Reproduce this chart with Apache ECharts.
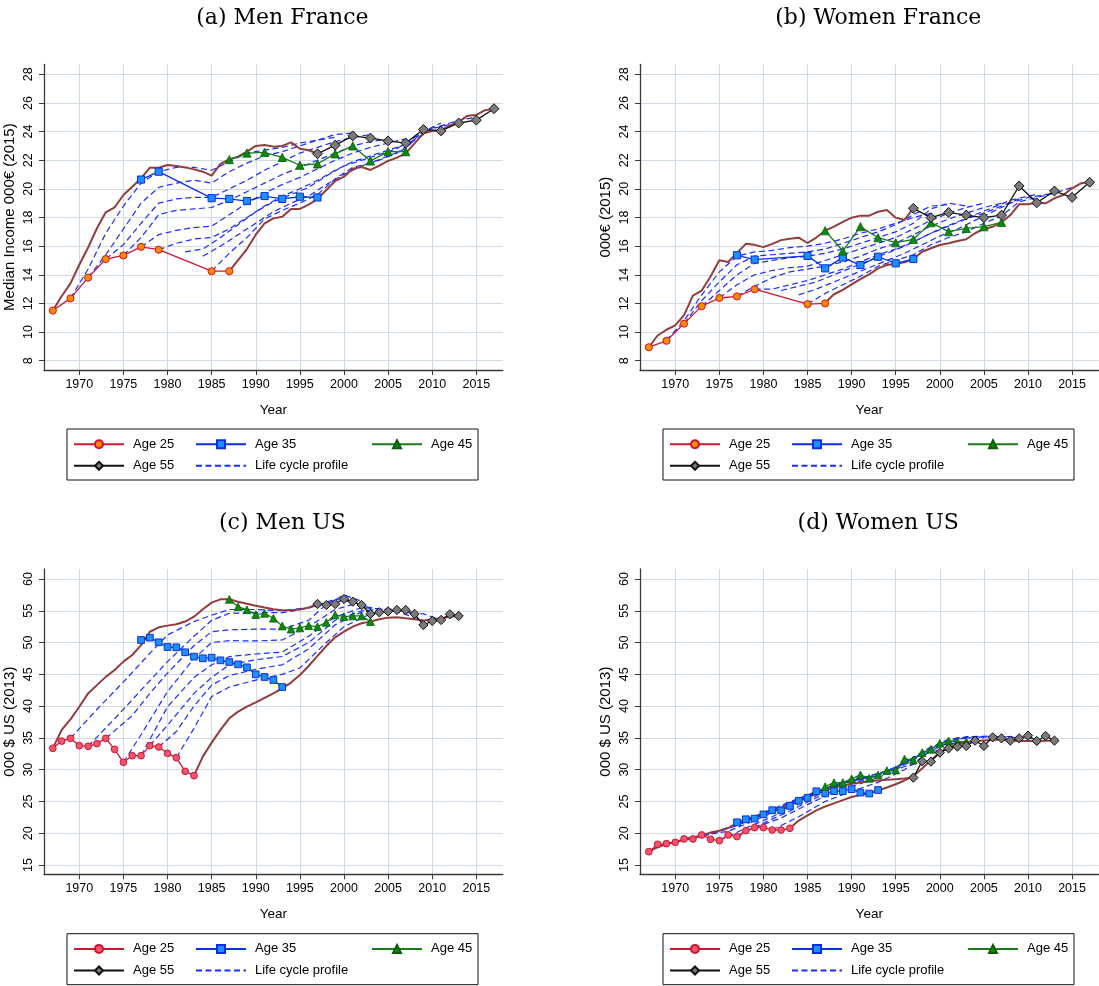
<!DOCTYPE html>
<html><head><meta charset="utf-8">
<script src="https://cdn.jsdelivr.net/npm/echarts@6/dist/echarts.min.js"></script>
<style>html,body{margin:0;padding:0;background:#fff}#c{width:1099px;height:986px}</style>
</head><body><div id="c"></div>
<script>
// ---------------- tick labels ----------------
const xTicks = [1970,1975,1980,1985,1990,1995,2000,2005,2010,2015];
const yTicksFR = [8,10,12,14,16,18,20,22,24,26,28];
const yTicksUS = [15,20,25,30,35,40,45,50,55,60];
const panelTitles = ['(a) Men France','(b) Women France','(c) Men US','(d) Women US'];
const yNames = ['Median Income 000€ (2015)','000€ (2015)','000 $ US (2013)','000 $ US (2013)'];
const legendNames = ['Age 25','Age 35','Age 45','Age 55','Life cycle profile'];

// ---------------- (a) Men France ----------------
const menFR_age25 = [[1967,11.5],[1969,12.35],[1971,13.8],[1973,15.1],[1975,15.35],[1977,15.95],[1979,15.75],[1985,14.25],[1987,14.25]];
const menFR_age35 = [[1977,20.65],[1979,21.2],[1985,19.35],[1987,19.3],[1989,19.15],[1991,19.5],[1993,19.3],[1995,19.45],[1997,19.4]];
const menFR_age45 = [[1987,22.05],[1989,22.5],[1991,22.55],[1993,22.2],[1995,21.65],[1997,21.75],[1999,22.45],[2001,23.0],[2003,21.95],[2005,22.6],[2007,22.6]];
const menFR_age55 = [[1997,22.45],[1999,23.05],[2001,23.7],[2003,23.55],[2005,23.35],[2007,23.2],[2009,24.15],[2011,24.05],[2013,24.6],[2015,24.8],[2017,25.6]];
const menFR_upper = [[1967,11.5],[1968,12.5],[1969,13.4],[1970,14.7],[1971,15.9],[1972,17.25],[1973,18.36],[1974,18.7],[1975,19.57],[1976,20.15],[1977,20.73],[1978,21.48],[1979,21.48],[1980,21.67],[1981,21.6],[1982,21.5],[1983,21.36],[1984,21.2],[1985,20.92],[1986,21.74],[1987,22.06],[1988,22.25],[1989,22.6],[1990,23.0],[1991,23.06],[1992,22.95],[1993,23.0],[1994,23.25],[1995,22.8],[1996,22.7],[1997,22.45]];
const menFR_lower = [[1987,14.25],[1988,15.03],[1989,15.8],[1990,16.8],[1991,17.59],[1992,17.94],[1993,18.06],[1994,18.6],[1995,18.6],[1996,18.9],[1997,19.3],[1998,19.92],[1999,20.55],[2000,20.85],[2001,21.4],[2002,21.53],[2003,21.32],[2004,21.62],[2005,21.95],[2006,22.18],[2007,22.48],[2008,23.18],[2009,23.88],[2010,24.04],[2011,24.1],[2012,24.41],[2013,24.7],[2014,25.1],[2015,25.16],[2016,25.5],[2017,25.58]];
const menFR_cohorts = [
  [[1969,12.35],[1971,14.4],[1973,16.9],[1975,18.8],[1977,20.4],[1979,21.2],[1981,21.5],[1983,21.5],[1985,21.3],[1987,21.9],[1989,22.5],[1991,22.7],[1993,22.9],[1995,23.2],[1997,23.4],[1999,23.6]],
  [[1971,13.8],[1973,15.4],[1975,17.2],[1977,19.0],[1979,20.1],[1981,20.4],[1983,20.6],[1985,20.4],[1987,21.2],[1989,21.8],[1991,22.3],[1993,22.6],[1995,23.0],[1997,23.4],[1999,23.8],[2001,23.9]],
  [[1973,15.1],[1975,16.1],[1977,17.6],[1979,19.0],[1981,19.3],[1983,19.4],[1985,19.4],[1987,20.0],[1989,20.6],[1991,21.3],[1993,21.9],[1995,22.5],[1997,22.9],[1999,23.3],[2001,23.6],[2003,23.8]],
  [[1975,15.35],[1977,16.6],[1979,18.2],[1981,18.5],[1983,18.6],[1985,18.7],[1987,19.2],[1989,19.8],[1991,20.4],[1993,21.0],[1995,21.5],[1997,22.0],[1999,22.5],[2001,23.0],[2003,23.3],[2005,23.5]],
  [[1977,15.95],[1979,16.8],[1981,17.1],[1983,17.3],[1985,17.4],[1987,18.2],[1989,19.0],[1991,19.7],[1993,20.3],[1995,20.8],[1997,21.4],[1999,22.0],[2001,22.5],[2003,22.9],[2005,23.2],[2007,23.5]],
  [[1979,15.75],[1981,16.2],[1983,16.5],[1985,16.6],[1987,17.2],[1989,18.0],[1991,18.8],[1993,19.5],[1995,20.0],[1997,20.6],[1999,21.3],[2001,21.9],[2003,22.3],[2005,22.7],[2007,23.1],[2009,23.8]],
  [[1982,15.6],[1984,15.8],[1986,16.6],[1988,17.5],[1990,18.4],[1992,19.1],[1994,19.6],[1996,20.1],[1998,20.9],[2000,21.6],[2002,22.0],[2004,22.4],[2006,22.8],[2008,23.6],[2010,24.3],[2011,24.6]],
  [[1984,15.3],[1986,16.0],[1988,16.8],[1990,17.6],[1992,18.4],[1994,19.0],[1996,19.5],[1998,20.3],[2000,21.0],[2002,21.6],[2004,22.0],[2006,22.5],[2008,23.4],[2010,24.2],[2012,24.5],[2013,24.7]],
  [[1985,14.25],[1987,15.5],[1989,16.6],[1991,17.9],[1993,18.5],[1995,19.0],[1997,19.6],[1999,20.7],[2001,21.5],[2003,21.8],[2005,22.3],[2007,22.8],[2009,24.1],[2011,24.4],[2013,24.8],[2015,25.0]]
];

// ---------------- (b) Women France ----------------
const womFR_age25 = [[1967,8.94],[1969,9.39],[1971,10.59],[1973,11.81],[1975,12.38],[1977,12.49],[1979,12.99],[1985,11.95],[1987,12.0]];
const womFR_age35 = [[1977,15.36],[1979,15.06],[1985,15.32],[1987,14.45],[1989,15.2],[1991,14.68],[1993,15.26],[1995,14.8],[1997,15.1]];
const womFR_age45 = [[1987,17.08],[1989,15.66],[1991,17.36],[1993,16.59],[1995,16.24],[1997,16.48],[1999,17.64],[2001,17.01],[2003,17.24],[2005,17.36],[2007,17.66]];
const womFR_age55 = [[1997,18.64],[1999,17.99],[2001,18.36],[2003,18.17],[2005,17.99],[2007,18.17],[2009,20.2],[2011,19.03],[2013,19.85],[2015,19.41],[2017,20.46]];
const womFR_upper = [[1967,8.94],[1968,9.76],[1969,10.16],[1970,10.47],[1971,11.18],[1972,12.54],[1973,12.9],[1974,13.88],[1975,15.01],[1976,14.9],[1977,15.53],[1978,16.16],[1979,16.09],[1980,15.93],[1981,16.16],[1982,16.42],[1983,16.52],[1984,16.59],[1985,16.22],[1986,16.6],[1987,17.08],[1988,17.36],[1989,17.7],[1990,17.99],[1991,18.13],[1992,18.13],[1993,18.4],[1994,18.52],[1995,17.99],[1996,17.83],[1997,18.64]];
const womFR_lower = [[1987,12.05],[1988,12.64],[1989,12.94],[1990,13.33],[1991,13.7],[1992,14.03],[1993,14.45],[1994,14.68],[1995,14.77],[1996,14.87],[1997,15.1],[1998,15.61],[1999,15.85],[2000,16.08],[2001,16.2],[2002,16.36],[2003,16.48],[2004,16.9],[2005,17.2],[2006,17.36],[2007,17.66],[2008,18.17],[2009,18.92],[2010,18.92],[2011,19.03],[2012,18.99],[2013,19.34],[2014,19.57],[2015,20.04],[2016,20.39],[2017,20.46]];
const womFR_cohorts = [
  [[1969,9.4],[1971,10.8],[1973,12.6],[1975,14.2],[1977,15.3],[1979,15.6],[1981,15.7],[1983,15.9],[1985,16.0],[1987,16.2],[1989,16.5],[1991,16.9],[1993,17.2],[1995,17.6],[1997,18.0],[1999,18.3]],
  [[1971,10.6],[1973,12.2],[1975,13.5],[1977,14.7],[1979,15.3],[1981,15.4],[1983,15.5],[1985,15.6],[1987,15.8],[1989,16.2],[1991,16.6],[1993,17.0],[1995,17.5],[1997,18.2],[1999,18.8],[2001,18.9]],
  [[1973,11.8],[1975,12.9],[1977,14.0],[1979,14.8],[1981,15.0],[1983,15.2],[1985,15.3],[1987,15.5],[1989,15.8],[1991,16.2],[1993,16.6],[1995,17.0],[1997,17.6],[1999,18.6],[2001,19.0],[2003,18.8]],
  [[1975,12.4],[1977,13.3],[1979,14.0],[1981,14.3],[1983,14.5],[1985,14.6],[1987,15.0],[1989,15.4],[1991,15.8],[1993,16.2],[1995,16.6],[1997,17.2],[1999,17.8],[2001,18.3],[2003,18.7],[2005,19.0]],
  [[1977,12.5],[1979,13.2],[1981,13.8],[1983,14.2],[1985,14.4],[1987,14.6],[1989,14.9],[1991,15.3],[1993,15.8],[1995,16.2],[1997,16.8],[1999,17.4],[2001,17.9],[2003,18.3],[2005,18.7],[2007,19.0]],
  [[1979,13.0],[1981,13.0],[1983,13.3],[1985,13.6],[1987,14.0],[1989,14.4],[1991,14.9],[1993,15.4],[1995,15.8],[1997,16.3],[1999,16.9],[2001,17.4],[2003,17.9],[2005,18.3],[2007,18.8],[2009,19.3]],
  [[1982,12.9],[1984,13.2],[1986,13.5],[1988,14.0],[1990,14.5],[1992,15.0],[1994,15.5],[1996,16.0],[1998,16.6],[2000,17.2],[2002,17.7],[2004,18.2],[2006,18.7],[2008,19.2],[2010,19.5],[2011,19.6]],
  [[1984,12.6],[1986,13.0],[1988,13.5],[1990,14.0],[1992,14.5],[1994,15.0],[1996,15.5],[1998,16.1],[2000,16.7],[2002,17.2],[2004,17.8],[2006,18.4],[2008,19.0],[2010,19.4],[2012,19.6],[2013,19.7]],
  [[1985,11.95],[1987,12.7],[1989,13.3],[1991,13.9],[1993,14.6],[1995,15.0],[1997,15.4],[1999,16.1],[2001,16.6],[2003,17.0],[2005,17.6],[2007,18.1],[2009,19.1],[2011,19.4],[2013,19.7],[2015,20.1]]
];

// ---------------- (c) Men US ----------------
const menUS_age25 = [[1967,33.36],[1968,34.5],[1969,34.93],[1970,33.78],[1971,33.68],[1972,34.1],[1973,34.93],[1974,33.2],[1975,31.16],[1976,32.2],[1977,32.2],[1978,33.78],[1979,33.57],[1980,32.57],[1981,31.89],[1982,29.74],[1983,29.06]];
const menUS_age35 = [[1977,50.4],[1978,50.77],[1979,50.04],[1980,49.3],[1981,49.25],[1982,48.47],[1983,47.78],[1984,47.52],[1985,47.62],[1986,47.2],[1987,46.94],[1988,46.57],[1989,46.1],[1990,45.0],[1991,44.58],[1992,44.1],[1993,43.0]];
const menUS_age45 = [[1987,56.8],[1988,55.64],[1989,55.15],[1990,54.4],[1991,54.6],[1992,53.82],[1993,52.6],[1994,52.1],[1995,52.3],[1996,52.66],[1997,52.5],[1998,53.18],[1999,54.34],[2000,54.07],[2001,54.18],[2002,54.18],[2003,53.29]];
const menUS_age55 = [[1997,56.07],[1998,55.9],[1999,56.07],[2000,56.85],[2001,56.43],[2002,55.9],[2003,54.5],[2004,54.76],[2005,54.91],[2006,55.12],[2007,55.12],[2008,54.5],[2009,52.76],[2010,53.4],[2011,53.55],[2012,54.44],[2013,54.18]];
const menUS_upper = [[1967,33.36],[1968,36.25],[1969,37.92],[1970,39.9],[1971,42.0],[1972,43.3],[1973,44.6],[1974,45.68],[1975,47.0],[1976,48.04],[1977,49.6],[1978,51.7],[1979,52.4],[1980,52.66],[1981,52.87],[1982,53.3],[1983,54.07],[1984,55.23],[1985,56.28],[1986,56.8],[1987,56.8],[1988,56.43],[1989,56.1],[1990,55.8],[1991,55.5],[1992,55.25],[1993,55.1],[1994,55.1],[1995,55.2],[1996,55.5],[1997,56.07]];
const menUS_lower = [[1983,29.06],[1984,32.05],[1985,34.25],[1986,36.25],[1987,38.08],[1988,39.13],[1989,39.92],[1990,40.6],[1991,41.3],[1992,42.0],[1993,42.8],[1994,43.7],[1995,44.9],[1996,46.31],[1997,47.9],[1998,49.46],[1999,50.82],[2000,51.71],[2001,52.5],[2002,53.03],[2003,53.29],[2004,53.66],[2005,53.92],[2006,53.97],[2007,53.81],[2008,53.66],[2009,53.45],[2010,53.66],[2011,53.81],[2012,54.07],[2013,54.18]];
const menUS_cohorts = [
  [[1969,34.93],[1972,39.5],[1975,43.8],[1978,48.3],[1980,51.2],[1983,53.3],[1985,54.3],[1987,55.2],[1990,55.2],[1993,55.0],[1996,55.5],[1999,56.1]],
  [[1971,33.68],[1974,38.0],[1977,42.5],[1980,47.0],[1983,51.0],[1985,53.5],[1987,54.6],[1990,54.7],[1993,54.7],[1996,55.4],[1999,56.8],[2001,56.4]],
  [[1973,34.93],[1976,38.5],[1978,42.0],[1980,45.2],[1983,49.5],[1985,51.7],[1987,52.0],[1990,52.1],[1993,52.1],[1996,53.5],[1998,56.0],[2000,57.5],[2002,56.5],[2003,54.5]],
  [[1975,31.16],[1977,35.5],[1980,42.3],[1983,47.5],[1985,50.0],[1987,50.3],[1990,50.25],[1993,50.4],[1996,52.5],[1999,55.2],[2001,56.0],[2003,55.5],[2005,55.0]],
  [[1977,32.2],[1980,39.9],[1983,44.5],[1985,46.5],[1987,47.8],[1990,48.2],[1993,48.5],[1996,51.0],[1999,54.0],[2002,55.5],[2005,55.2],[2007,55.1]],
  [[1978,33.78],[1980,37.0],[1983,42.0],[1985,44.5],[1987,46.5],[1990,47.3],[1993,47.8],[1996,50.0],[1999,53.5],[2002,55.0],[2005,55.3],[2008,54.5]],
  [[1979,33.57],[1981,36.0],[1983,40.0],[1985,43.3],[1987,44.8],[1990,45.8],[1993,46.5],[1996,49.0],[1999,52.8],[2002,54.8],[2005,55.3],[2009,53.5]],
  [[1981,31.89],[1983,36.5],[1985,41.5],[1987,43.0],[1990,44.1],[1993,45.0],[1995,46.0],[1998,50.0],[2000,52.5],[2003,54.5],[2006,55.0],[2009,54.5],[2011,53.6]]
];

// ---------------- (d) Women US ----------------
const womUS_age25 = [[1967,17.1],[1968,18.26],[1969,18.36],[1970,18.57],[1971,19.1],[1972,19.1],[1973,19.73],[1974,19.05],[1975,18.84],[1976,19.73],[1977,19.47],[1978,20.41],[1979,20.88],[1980,20.88],[1981,20.51],[1982,20.51],[1983,20.78]];
const womUS_age35 = [[1977,21.72],[1978,22.2],[1979,22.3],[1980,22.97],[1981,23.63],[1982,23.6],[1983,24.3],[1984,25.1],[1985,25.55],[1986,26.6],[1987,26.25],[1988,26.62],[1989,26.62],[1990,26.93],[1991,26.4],[1992,26.25],[1993,26.8]];
const womUS_age45 = [[1987,27.33],[1988,27.96],[1989,27.96],[1990,28.54],[1991,29.17],[1992,28.64],[1993,29.17],[1994,29.85],[1995,29.95],[1996,31.68],[1997,31.53],[1998,32.68],[1999,33.2],[2000,34.15],[2001,34.51],[2002,34.41],[2003,34.41]];
const womUS_age55 = [[1997,28.75],[1998,31.32],[1999,31.26],[2000,32.68],[2001,33.36],[2002,33.62],[2003,33.73],[2004,34.57],[2005,33.73],[2006,35.09],[2007,34.93],[2008,34.57],[2009,34.93],[2010,35.35],[2011,34.51],[2012,35.3],[2013,34.57]];
const womUS_upper = [[1967,17.1],[1968,17.8],[1969,18.3],[1970,18.6],[1971,19.0],[1972,19.3],[1973,19.7],[1974,20.1],[1975,20.4],[1976,20.8],[1977,21.6],[1978,22.2],[1979,22.6],[1980,23.2],[1981,23.7],[1982,24.0],[1983,24.5],[1984,25.1],[1985,25.6],[1986,26.2],[1987,26.8],[1988,27.2],[1989,27.5],[1990,27.8],[1991,28.0],[1992,28.2],[1993,28.3],[1994,28.4],[1995,28.5],[1996,28.6],[1997,28.75]];
const womUS_lower = [[1983,20.78],[1984,22.0],[1985,22.8],[1986,23.6],[1987,24.2],[1988,24.7],[1989,25.2],[1990,25.7],[1991,26.0],[1992,26.3],[1993,26.7],[1994,27.2],[1995,27.7],[1996,28.3],[1997,29.0],[1998,30.2],[1999,31.5],[2000,32.7],[2001,33.5],[2002,34.0],[2003,34.3],[2004,34.5],[2005,34.6],[2006,34.7],[2007,34.7],[2008,34.6],[2009,34.5],[2010,34.5],[2011,34.5],[2012,34.55],[2013,34.57]];
const womUS_cohorts = [
  [[1969,18.36],[1972,19.2],[1975,20.4],[1978,22.0],[1981,23.8],[1984,25.5],[1987,27.0],[1990,28.2],[1993,29.0],[1996,30.5],[1999,31.5]],
  [[1971,19.1],[1974,19.8],[1977,21.2],[1980,23.0],[1983,24.8],[1986,26.6],[1989,28.0],[1992,29.0],[1995,30.2],[1998,32.5],[2001,33.4]],
  [[1973,19.73],[1976,20.3],[1979,22.0],[1982,23.9],[1985,25.8],[1988,27.5],[1991,28.6],[1994,29.8],[1997,31.8],[2000,34.0],[2003,34.3]],
  [[1975,18.84],[1978,20.8],[1981,22.6],[1984,24.6],[1987,26.6],[1990,28.0],[1993,29.2],[1996,31.0],[1999,33.6],[2002,35.0],[2005,35.0]],
  [[1977,19.47],[1980,21.6],[1983,23.5],[1986,25.6],[1989,27.3],[1992,28.6],[1995,30.2],[1998,32.8],[2001,34.8],[2004,35.2],[2007,35.0]],
  [[1979,20.88],[1982,22.4],[1985,24.5],[1988,26.5],[1991,27.8],[1994,29.3],[1997,31.5],[2000,34.2],[2003,35.2],[2006,35.3],[2009,35.0]],
  [[1981,20.51],[1984,22.6],[1987,25.0],[1990,26.6],[1993,28.0],[1996,30.0],[1999,33.0],[2002,34.8],[2005,35.2],[2008,35.2],[2011,34.8]]
];

// ---------------- layout / styling ----------------
const SANS = '"Liberation Sans", Arial, Helvetica, sans-serif';
const SERIF = '"DejaVu Serif", "Liberation Serif", serif';
const GRID_COL = '#D0DAE4';
const AXIS_COL = '#3a3a3a';
const BROWN = '#923C3C';
const DASH_BLUE = '#1A2BFF';

const panelData = [
  {k:'a', a25:menFR_age25, a35:menFR_age35, a45:menFR_age45, a55:menFR_age55, up:menFR_upper, lo:menFR_lower, co:menFR_cohorts, fill25:'#FF8C00', us:false},
  {k:'b', a25:womFR_age25, a35:womFR_age35, a45:womFR_age45, a55:womFR_age55, up:womFR_upper, lo:womFR_lower, co:womFR_cohorts, fill25:'#FF8C00', us:false},
  {k:'c', a25:menUS_age25, a35:menUS_age35, a45:menUS_age45, a55:menUS_age55, up:menUS_upper, lo:menUS_lower, co:menUS_cohorts, fill25:'#F2566E', us:true},
  {k:'d', a25:womUS_age25, a35:womUS_age35, a45:womUS_age45, a55:womUS_age55, up:womUS_upper, lo:womUS_lower, co:womUS_cohorts, fill25:'#F2566E', us:true}
];
const gridPos = [
  {left:44, top:64.3, width:458.8, height:305.7},
  {left:640, top:64.3, width:458.5, height:305.7},
  {left:44, top:569, width:458.8, height:305.3},
  {left:640, top:569, width:458.5, height:305.3}
];
const yRange = [[7.35,28.7],[7.35,28.7],[13.54,61.57],[13.54,61.57]];

const grids = [], xAxes = [], yAxes = [], series = [], legends = [], titles = [], graphics = [];

panelData.forEach((p, i) => {
  const g = gridPos[i];
  grids.push(Object.assign({containLabel:false}, g));
  xAxes.push({
    type:'value', gridIndex:i, min:1966, max:2018,
    name:'Year', nameLocation:'middle', nameGap:33,
    nameTextStyle:{fontFamily:SANS, fontSize:13.5, color:'#000'},
    axisLine:{show:true, onZero:false, lineStyle:{color:AXIS_COL, width:1.3}},
    axisTick:{show:true, customValues:xTicks, length:5, lineStyle:{color:AXIS_COL, width:1}},
    axisLabel:{customValues:xTicks, fontFamily:SANS, fontSize:12.5, color:'#000', margin:8, formatter:v=>String(v)},
    splitLine:{show:true, lineStyle:{color:GRID_COL, width:1}}
  });
  const yt = p.us ? yTicksUS : yTicksFR;
  yAxes.push({
    type:'value', gridIndex:i, min:yRange[i][0], max:yRange[i][1],
    name:yNames[i], nameLocation:'middle', nameGap:27, nameRotate:90,
    nameTextStyle:{fontFamily:SANS, fontSize:15, color:'#000'},
    axisLine:{show:true, onZero:false, lineStyle:{color:AXIS_COL, width:1.3}},
    axisTick:{show:true, customValues:yt, length:5, lineStyle:{color:AXIS_COL, width:1}},
    axisLabel:{customValues:yt, rotate:90, fontFamily:SANS, fontSize:12.5, color:'#000', margin:9, formatter:v=>String(v)},
    splitLine:{show:true, lineStyle:{color:GRID_COL, width:1}}
  });
  const base = {type:'line', xAxisIndex:i, yAxisIndex:i, animation:false, silent:true};
  p.co.forEach(c => series.push(Object.assign({}, base, {
    name:'Life cycle profile|'+p.k, data:c, symbol:'none', z:2,
    itemStyle:{color:DASH_BLUE}, lineStyle:{color:DASH_BLUE, width:1.2, type:[6,3.5]}
  })));
  [p.up, p.lo].forEach(d => series.push(Object.assign({}, base, {
    name:'envelope|'+p.k, data:d, symbol:'none', z:3,
    lineStyle:{color:BROWN, width:2}
  })));
  const ms = p.us ? 1.03 : 1.1;
  series.push(Object.assign({}, base, {name:'Age 25|'+p.k, data:p.a25, symbol:'circle', symbolSize:6.5*ms, z:5,
    itemStyle:{color:p.fill25, borderColor:'#D0102E', borderWidth:1}, lineStyle:{color:'#CC1636', width:1.3}}));
  series.push(Object.assign({}, base, {name:'Age 35|'+p.k, data:p.a35, symbol:'rect', symbolSize:6.5*ms, z:5,
    itemStyle:{color:'#1E8FFF', borderColor:'#0A2FE0', borderWidth:1}, lineStyle:{color:'#0A2FE0', width:1.3}}));
  series.push(Object.assign({}, base, {name:'Age 45|'+p.k, data:p.a45, symbol:'triangle', symbolSize:7.5*ms, z:5,
    itemStyle:{color:'#0B8A0B', borderColor:'#0A5C0A', borderWidth:0.8}, lineStyle:{color:'#187A18', width:1.3}}));
  series.push(Object.assign({}, base, {name:'Age 55|'+p.k, data:p.a55, symbol:'diamond', symbolSize:9*ms, z:6,
    itemStyle:{color:'#7A7A7A', borderColor:'#111', borderWidth:1}, lineStyle:{color:'#111', width:1.3}}));

  // legend box
  const bx = g.left + 23, by = g.top + 364.7;
  graphics.push({type:'rect', shape:{x:bx, y:by, width:411, height:51}, style:{fill:'none', stroke:'#111', lineWidth:1}, z:10});
  const rows = [by + 16.7, by + 38.3];
  const pos = [[bx+6, rows[0]], [bx+128, rows[0]], [bx+304, rows[0]], [bx+6, rows[1]], [bx+128, rows[1]]];
  legendNames.forEach((ln, j) => {
    const leg = {
      data:[ln + '|' + p.k], left:pos[j][0], top:pos[j][1] - 8, padding:0,
      itemWidth:50, itemHeight:10, selectedMode:false,
      formatter: n => n.split('|')[0],
      textStyle:{fontFamily:SANS, fontSize:13, color:'#000', padding:[0,0,0,4]}
    };
    if (j === 4) leg.itemStyle = {color:'rgba(0,0,0,0)', borderColor:'rgba(0,0,0,0)', borderWidth:0};
    legends.push(leg);
  });
  titles.push({text:panelTitles[i], left:g.left + g.width/2 + 4, top:(i<2 ? 2 : 507), textAlign:'center',
    textStyle:{fontFamily:SERIF, fontSize:22, fontWeight:'normal', color:'#000'}});
});

const chart = echarts.init(document.getElementById('c'), null, {renderer:'canvas'});
chart.setOption({
  backgroundColor:'#fff', animation:false,
  title:titles, grid:grids, xAxis:xAxes, yAxis:yAxes, legend:legends, series:series,
  graphic:graphics
});
</script></body></html>
